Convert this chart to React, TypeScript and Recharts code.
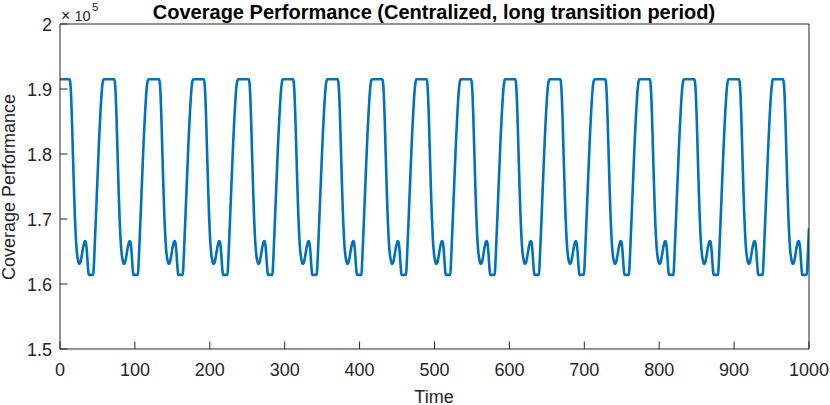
import { Line, LineChart, XAxis, YAxis } from "recharts";

// one period of the waveform: offset from the centre of a
// flat top (time units) and the value at that offset (x 10^5)
const CYCLE_OFFSETS = [
  -7, 7, 8, 9, 10, 11, 12, 13, 14, 15, 16, 17, 18, 19, 20, 21, 22, 23, 24, 25,
  26, 27, 28, 29, 30, 31, 32, 32.6, 38.6, 39.4, 40.4, 41.4, 42.4, 43.4, 44.4,
  45.4, 46.4, 47.4, 48.4, 49.4, 50.4, 51.4,
];
const CYCLE_VALUES = [
  1.915, 1.915, 1.909, 1.89, 1.858, 1.818, 1.778, 1.74, 1.706, 1.679, 1.659,
  1.646, 1.638, 1.633, 1.631, 1.632, 1.636, 1.642, 1.649, 1.656, 1.661, 1.665,
  1.666, 1.662, 1.651, 1.634, 1.619, 1.614, 1.614, 1.628, 1.654, 1.682, 1.71,
  1.739, 1.767, 1.795, 1.822, 1.846, 1.868, 1.887, 1.902, 1.911,
];
// centre of each flat top along the time axis
const CYCLE_CENTERS = [
  5.8, 65.4, 125.3, 185.0, 245.0, 304.2, 363.8, 423.4, 482.4, 541.8, 600.8,
  660.9, 721.0, 780.4, 840.0, 899.6, 958.4,
];
const START_VALUE = 1.915;
const END_VALUE = 1.686;

const X_TICKS = [0, 100, 200, 300, 400, 500, 600, 700, 800, 900, 1000];
const Y_TICKS = [1.5, 1.6, 1.7, 1.8, 1.9, 2];

const W = 830;
const H = 405;
// axes below take 1px each, so the plot box ends up at x 60..808, y 25..349
const MARGIN = { top: 24, right: 21, bottom: 55, left: 59 };
const FONT = "'Liberation Sans', Arial, Helvetica, sans-serif";
const AXIS = "#262626";
const TICK_LEN = 7.5;

function buildData() {
  const pts: { t: number; v: number }[] = [{ t: 0, v: START_VALUE }];
  CYCLE_CENTERS.forEach((c) => {
    CYCLE_OFFSETS.forEach((dt, i) => {
      const t = c + dt;
      if (t > 0 && t < 1000) pts.push({ t, v: CYCLE_VALUES[i] });
    });
  });
  pts.push({ t: 1000, v: END_VALUE });
  return pts.sort((a, b) => a.t - b.t);
}

const data = buildData();

function BottomTick({ x, y, payload }: any) {
  return (
    <g>
      <line x1={x} x2={x} y1={y} y2={y - TICK_LEN} stroke={AXIS} strokeWidth={1} />
      <text x={x} y={y + 26.5} textAnchor="middle" fill={AXIS} fontSize={18} fontFamily={FONT}>
        {payload.value}
      </text>
    </g>
  );
}

function LeftTick({ x, y, payload }: any) {
  return (
    <g>
      <line x1={x} x2={x + TICK_LEN} y1={y} y2={y} stroke={AXIS} strokeWidth={1} />
      <text x={x - 8} y={y + 6.5} textAnchor="end" fill={AXIS} fontSize={18} fontFamily={FONT}>
        {String(payload.value)}
      </text>
    </g>
  );
}

export default function App() {
  const plotCx = 434;
  const plotCy = 187;

  return (
    <div style={{ position: "absolute", left: 0, top: 0, width: W, height: H, background: "#fff" }}>
      <LineChart width={W} height={H} data={data} margin={MARGIN}>
        <XAxis
          xAxisId="x"
          dataKey="t"
          type="number"
          domain={[0, 1000]}
          ticks={X_TICKS}
          height={1}
          tickSize={0}
          tickMargin={0}
          tickLine={false}
          tick={<BottomTick />}
          axisLine={{ stroke: AXIS }}
          allowDataOverflow
        />
        <XAxis
          xAxisId="top"
          orientation="top"
          type="number"
          domain={[0, 1000]}
          ticks={X_TICKS}
          height={1}
          mirror
          tick={false}
          tickSize={TICK_LEN}
          tickLine={{ stroke: AXIS }}
          axisLine={{ stroke: AXIS }}
        />
        <YAxis
          yAxisId="y"
          type="number"
          domain={[1.5, 2]}
          ticks={Y_TICKS}
          width={1}
          tickSize={0}
          tickMargin={0}
          tickLine={false}
          tick={<LeftTick />}
          axisLine={{ stroke: AXIS }}
          allowDataOverflow
        />
        <YAxis
          yAxisId="right"
          orientation="right"
          type="number"
          domain={[1.5, 2]}
          ticks={Y_TICKS}
          width={1}
          mirror
          tick={false}
          tickSize={TICK_LEN}
          tickLine={{ stroke: AXIS }}
          axisLine={{ stroke: AXIS }}
        />
        <Line
          xAxisId="x"
          yAxisId="y"
          type="monotone"
          dataKey="v"
          stroke="#0072BD"
          strokeWidth={2.6}
          dot={false}
          activeDot={false}
          isAnimationActive={false}
        />
      </LineChart>

      {/* title, exponent and axis labels */}
      <svg
        width={W}
        height={H}
        style={{ position: "absolute", left: 0, top: 0, pointerEvents: "none" }}
        fontFamily={FONT}
      >
        <text x={plotCx} y={19} textAnchor="middle" fontSize={20} fontWeight="bold" fill="#000">
          Coverage Performance (Centralized, long transition period)
        </text>
        <text x={61} y={20.5} fontSize={16} fill={AXIS}>
          ×
        </text>
        <text x={74.5} y={20.5} fontSize={14.5} fill={AXIS}>
          10
        </text>
        <text x={92} y={10.5} fontSize={11.5} fill={AXIS}>
          5
        </text>
        <text x={plotCx} y={402.5} textAnchor="middle" fontSize={18} fill={AXIS}>
          Time
        </text>
        <text
          transform={`translate(15, ${plotCy}) rotate(-90)`}
          textAnchor="middle"
          fontSize={18}
          fill={AXIS}
        >
          Coverage Performance
        </text>
      </svg>
    </div>
  );
}
